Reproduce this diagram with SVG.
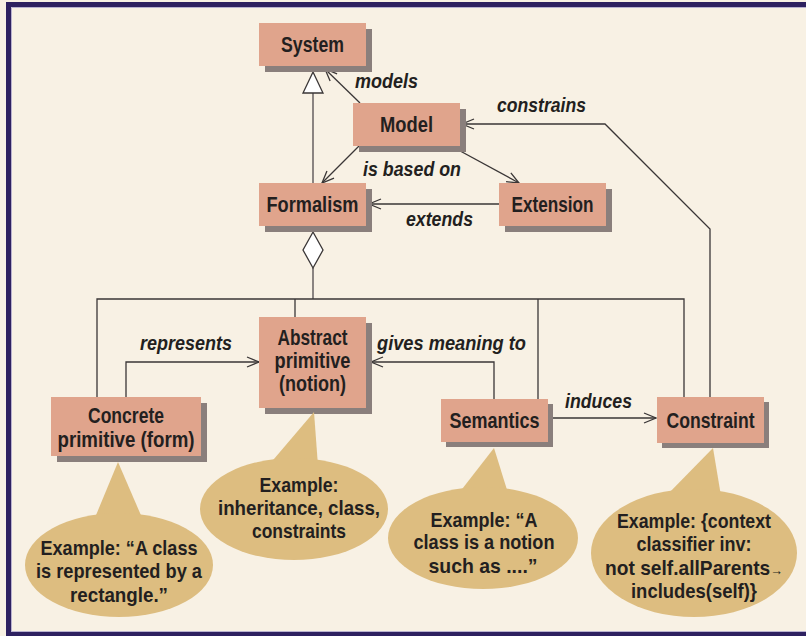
<svg xmlns="http://www.w3.org/2000/svg" width="806" height="636" viewBox="0 0 806 636">
<style>
.box{fill:#E0A48C}
.sh{fill:#8A7F7C}
.bt{font-family:"Liberation Sans",Arial,sans-serif;font-weight:bold;font-size:21.5px;fill:#231F20;text-anchor:middle}
.lb{font-family:"Liberation Sans",Arial,sans-serif;font-weight:bold;font-style:italic;font-size:19.5px;fill:#231F20}
.ct{font-family:"Liberation Sans",Arial,sans-serif;font-weight:bold;font-size:21px;fill:#231F20;text-anchor:middle}
.call{fill:#DDBD80}
.ln{fill:none;stroke:#3A3636;stroke-width:1.3}
.gl{fill:none;stroke:#7E7876;stroke-width:1.8}
</style>
<defs>
<marker id="oa" markerUnits="userSpaceOnUse" markerWidth="16" markerHeight="14" refX="13" refY="6" orient="auto">
<path d="M1,1 L13,6 L1,11" fill="none" stroke="#3A3636" stroke-width="1.3"/>
</marker>
</defs>
<rect x="0" y="0" width="806" height="636" fill="#F8F1E4"/>
<path d="M6,2 H806 V7 H11 V632 H806 V636 H6 Z" fill="#2E2160"/>
<path d="M11.5,632 V7.5 H806 M11.5,631.5 H806" fill="none" stroke="#B9B2CF" stroke-width="1"/>

<g id="connectors">
<line class="ln" x1="360" y1="103" x2="325" y2="69" marker-end="url(#oa)"/>
<polyline class="ln" points="710,397 710,229 605,124 462,124" marker-end="url(#oa)"/>
<line class="ln" x1="359" y1="146" x2="322" y2="183" marker-end="url(#oa)"/>
<line class="ln" x1="451" y1="146" x2="519" y2="183" marker-end="url(#oa)"/>
<line class="ln" x1="499" y1="204" x2="369" y2="204" marker-end="url(#oa)"/>
<line class="gl" x1="313" y1="183" x2="313" y2="93"/>
<polygon points="313,72 303,93 323,93" fill="#FFFFFF" stroke="#3A3636" stroke-width="1.3"/>
<line class="gl" x1="313" y1="268" x2="313" y2="299"/>
<polygon points="313,232 323,250 313,268 303,250" fill="#FFFFFF" stroke="#3A3636" stroke-width="1.3"/>
<polyline class="ln" points="97,397 97,299 684,299 684,397"/>
<line class="ln" x1="295" y1="299" x2="295" y2="317"/>
<line class="ln" x1="538" y1="299" x2="538" y2="399"/>
<polyline class="ln" points="126,397 126,362 259,362" marker-end="url(#oa)"/>
<polyline class="ln" points="494,399 494,362 371,362" marker-end="url(#oa)"/>
<line class="ln" x1="550" y1="418" x2="656" y2="418" marker-end="url(#oa)"/>
<text class="lb" x="355" y="88" textLength="63" lengthAdjust="spacingAndGlyphs">models</text>
<text class="lb" x="497" y="112" textLength="89" lengthAdjust="spacingAndGlyphs">constrains</text>
<text class="lb" x="363" y="176" textLength="98" lengthAdjust="spacingAndGlyphs">is based on</text>
<text class="lb" x="406" y="226" textLength="67" lengthAdjust="spacingAndGlyphs">extends</text>
<text class="lb" x="140" y="350" textLength="92" lengthAdjust="spacingAndGlyphs">represents</text>
<text class="lb" x="377" y="350" textLength="149" lengthAdjust="spacingAndGlyphs">gives meaning to</text>
<text class="lb" x="565" y="408" textLength="67" lengthAdjust="spacingAndGlyphs">induces</text>
</g>

<g id="system">
<rect class="sh" x="265" y="29" width="107" height="43"/>
<rect class="box" x="259" y="23" width="107" height="43"/>
<text class="bt" x="312.5" y="52" textLength="63" lengthAdjust="spacingAndGlyphs">System</text>
</g>
<g id="model">
<rect class="sh" x="359" y="109" width="107" height="43"/>
<rect class="box" x="353" y="103" width="107" height="43"/>
<text class="bt" x="406.5" y="132" textLength="53" lengthAdjust="spacingAndGlyphs">Model</text>
</g>
<g id="formalism">
<rect class="sh" x="265" y="189" width="107" height="43"/>
<rect class="box" x="259" y="183" width="107" height="43"/>
<text class="bt" x="312.5" y="212" textLength="92" lengthAdjust="spacingAndGlyphs">Formalism</text>
</g>
<g id="extension">
<rect class="sh" x="505" y="189" width="107" height="43"/>
<rect class="box" x="499" y="183" width="107" height="43"/>
<text class="bt" x="552.5" y="212" textLength="82" lengthAdjust="spacingAndGlyphs">Extension</text>
</g>
<g id="abstract">
<rect class="sh" x="265" y="323" width="107" height="91"/>
<rect class="box" x="259" y="317" width="107" height="91"/>
<text class="bt" x="312.5" y="345" textLength="70" lengthAdjust="spacingAndGlyphs">Abstract</text>
<text class="bt" x="312.5" y="368" textLength="76" lengthAdjust="spacingAndGlyphs">primitive</text>
<text class="bt" x="312.5" y="391" textLength="67" lengthAdjust="spacingAndGlyphs">(notion)</text>
</g>
<g id="concrete">
<rect class="sh" x="57" y="403" width="150" height="59"/>
<rect class="box" x="51" y="397" width="150" height="59"/>
<text class="bt" x="126" y="423" textLength="76" lengthAdjust="spacingAndGlyphs">Concrete</text>
<text class="bt" x="126" y="447" textLength="137" lengthAdjust="spacingAndGlyphs">primitive (form)</text>
</g>
<g id="semantics">
<rect class="sh" x="446" y="404" width="107" height="43"/>
<rect class="box" x="441" y="399" width="107" height="43"/>
<text class="bt" x="494.5" y="428" textLength="90" lengthAdjust="spacingAndGlyphs">Semantics</text>
</g>
<g id="constraint">
<rect class="sh" x="662" y="402" width="107" height="46"/>
<rect class="box" x="657" y="397" width="107" height="46"/>
<text class="bt" x="710.5" y="428" textLength="88" lengthAdjust="spacingAndGlyphs">Constraint</text>
</g>

<g id="callout-concrete">
<polygon class="call" points="118,462 94,520 143,520"/>
<ellipse class="call" cx="119" cy="565" rx="94" ry="52"/>
<text class="ct" x="119" y="555" textLength="157" lengthAdjust="spacingAndGlyphs">Example: “A class</text>
<text class="ct" x="119" y="578" textLength="166" lengthAdjust="spacingAndGlyphs">is represented by a</text>
<text class="ct" x="119" y="602" textLength="98" lengthAdjust="spacingAndGlyphs">rectangle.”</text>
</g>
<g id="callout-abstract">
<polygon class="call" points="314,412 268,466 318,466"/>
<ellipse class="call" cx="294" cy="509" rx="94" ry="51"/>
<text class="ct" x="299" y="492" textLength="79" lengthAdjust="spacingAndGlyphs">Example:</text>
<text class="ct" x="299" y="515" textLength="162" lengthAdjust="spacingAndGlyphs">inheritance, class,</text>
<text class="ct" x="299" y="538" textLength="94" lengthAdjust="spacingAndGlyphs">constraints</text>
</g>
<g id="callout-semantics">
<polygon class="call" points="494,448 459,493 508,493"/>
<ellipse class="call" cx="483" cy="538" rx="95" ry="51"/>
<text class="ct" x="484" y="527" textLength="107" lengthAdjust="spacingAndGlyphs">Example: “A</text>
<text class="ct" x="484" y="549" textLength="141" lengthAdjust="spacingAndGlyphs">class is a notion</text>
<text class="ct" x="483" y="573" textLength="109" lengthAdjust="spacingAndGlyphs">such as ....”</text>
</g>
<g id="callout-constraint">
<polygon class="call" points="713,448 666,496 721,496"/>
<ellipse class="call" cx="694" cy="553" rx="103" ry="64"/>
<text class="ct" x="694" y="528" textLength="154" lengthAdjust="spacingAndGlyphs">Example: {context</text>
<text class="ct" x="694" y="551" textLength="115" lengthAdjust="spacingAndGlyphs">classifier inv:</text>
<text class="ct" x="694" y="575" textLength="178" lengthAdjust="spacingAndGlyphs">not self.allParents<tspan style="font-size:14px;font-weight:normal">→</tspan></text>
<text class="ct" x="694" y="598" textLength="126" lengthAdjust="spacingAndGlyphs">includes(self)}</text>
</g>
</svg>
